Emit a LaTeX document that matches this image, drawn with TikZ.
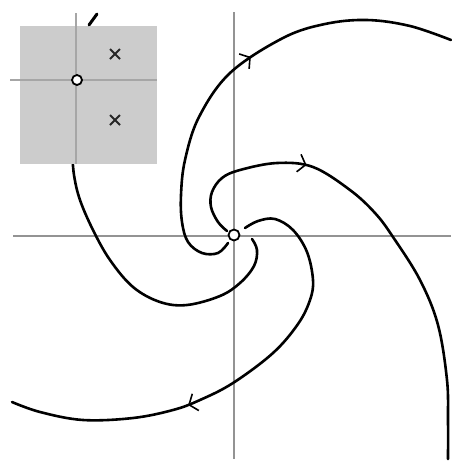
\documentclass[tikz,border=0pt]{standalone}
\usetikzlibrary{arrows.meta,decorations.markings}
\begin{document}
\begin{tikzpicture}[x=1pt,y=-1pt,
  axis/.style={draw=gray!85,line width=2.8pt},
  vaxis/.style={draw=gray!85,line width=1.4pt},
  traj/.style={draw=black,line width=2.6pt,line cap=round},
  barb/.style={postaction={decorate,decoration={markings,
     mark=at position #1 with {\arrow{Straight Barb[length=7pt,width=18pt,line width=1.6pt]}}}}},
  origin/.style={circle,draw=black,fill=white,line width=1.8pt,minimum size=11pt,inner sep=0pt},
  insetbox/.style={fill=gray!40,draw=none},
  insetaxis/.style={draw=gray!70,line width=1.8pt},
  pole/.style={line width=1.8pt,draw=black!85}]
\useasboundingbox (0,0) rectangle (451,461);
% main axes
\draw[axis] (13,236) -- (451,236);
\draw[vaxis] (234,12) -- (234,459);
% trajectories
\draw[traj,barb=0.55] plot[smooth,tension=0.6] coordinates {(228,243) (218,253) (202,253) (188,242) (182,222) (181,195) (185,160) (199,117) (230,73) (283,38) (325,24) (367,20) (410,26) (451,40)};
\draw[traj,barb=0.30] plot[smooth,tension=0.6] coordinates {(227,231) (218,222) (211,207) (212,192) (222,178) (240,170) (277,163) (313,167) (350,190) (375,213) (393,237) (420,280) (438,325) (447,380) (448,420) (448,459)};
\draw[traj,barb=0.62] plot[smooth,tension=0.6] coordinates {(245,228) (258,221) (275,219) (293,230) (307,252) (313,280) (310,300) (298,324) (273,353) (233,383) (200,400) (173,410) (133,418) (83,420) (40,412) (12,402)};
\draw[traj] plot[smooth,tension=0.6] coordinates {(252,239) (257,250) (254,266) (240,283) (220,296) (187,305) (160,302) (133,287) (110,260) (93,230) (80,200) (74,175) (72,150)};
\node[origin] (o) at (234,235) {};
% inset
\fill[insetbox] (20,26) rectangle (157,164);
\draw[insetaxis] (10,80) -- (157,80);
\draw[insetaxis] (76,13) -- (76,164);
\node[origin,minimum size=10pt] (io) at (77,80) {};
\draw[pole] (110,49) -- (120,59) (110,59) -- (120,49);
\draw[pole] (110,115) -- (120,125) (110,125) -- (120,115);
\draw[traj,line width=3pt] (89,25) -- (97,14);
\end{tikzpicture}
\end{document}
